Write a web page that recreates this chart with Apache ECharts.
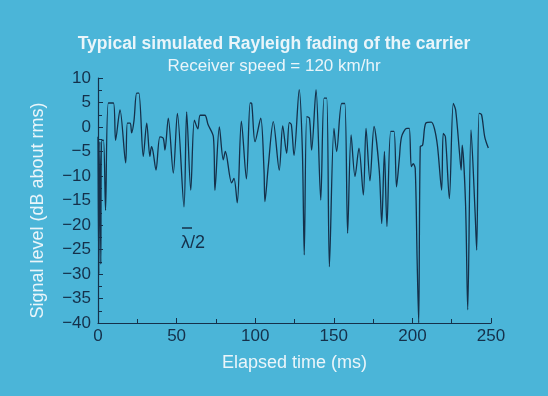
<!DOCTYPE html>
<html>
<head>
<meta charset="utf-8">
<script src="https://cdn.jsdelivr.net/npm/echarts@6/dist/echarts.min.js"></script>
<style>
html,body{margin:0;padding:0;background:#4bb5d8;}
#c{width:548px;height:396px;}
</style>
</head>
<body>
<div id="c"></div>
<script>
const titleText = 'Typical simulated Rayleigh fading of the carrier';
const subtitleText = 'Receiver speed = 120 km/hr';
const xName = 'Elapsed time (ms)';
const yName = 'Signal level (dB about rms)';
const xTicks = [0, 50, 100, 150, 200, 250];
const yTicks = [10, 5, 0, -5, -10, -15, -20, -25, -30, -35, -40];

const times = [0, 0.5, 1.2, 1.8, 2.3, 3.5, 4.8, 6.6, 9.8, 11.2, 14, 17.6, 18.7, 20.5, 21.4, 22.9, 24.6, 26,
  28.8, 31, 33, 34, 35, 36.9, 39.4, 41.5, 42.6, 44.7, 47.9, 50.5, 54.7, 56.4, 59, 61.3, 63.5, 65, 68, 70,
  73.4, 74.4, 77.2, 79.7, 81, 85, 86.5, 88.6, 91.2, 94.4, 96.8, 97.8, 99.9, 103.5, 105.6, 106.2, 108.3,
  111.5, 115.3, 117.5, 120, 121.7, 123, 124.7, 128, 130, 131.2, 132.8, 134.5, 135.9, 138.7, 141.7, 143.8,
  145.5, 147.2, 150.1, 151.8, 155, 157, 158.8, 161, 163.5, 166, 168.8, 170.5, 173, 175.6, 178.9, 180.5,
  182.2, 183.8, 186.2, 188.3, 189.9, 191.7, 193.1, 196.4, 198, 199.3, 200.5, 201.8, 203, 204, 205, 206.5,
  208.5, 212, 214, 216, 218.6, 219.6, 221, 223.5, 226, 227.5, 230, 231, 231.7, 233.8, 235.2, 237.3,
  239.9, 240.9, 242.4, 244, 246, 248.3];
const levels = [-2, -30, -3, -28, -2.7, -2.7, -17, 4.9, 4.9, -2.7, 3.5, -7.3, 0.8, 0.8, -1.2, 1.3, 6.9, 6.9,
  -6, 0.8, -6, -4, -5, -8.8, -2, -2.3, -4.7, 1.8, -9.4, 2.8, -16.3, 3.1, -12.9, 1.4, -0.4, 2.4, 2.4, 0.5,
  -2, -12.9, 0, -6.7, -5, -11.4, -10.5, -15.5, 1.2, -10.6, 4.9, 4.8, -3, 1.8, -8.8, -15.2, -8.1,
  1.1, -8.8, 0.2, -5.4, 0.9, 0.5, -5.8, 7.6, -4.7, -26.1, 2.1, 1.8, -4.7, 7.6, -14.9, 5.9,
  5.9, -28.5, -0.3, -5, 4.8, 4.8, -21.7, -1.6, -10.1, -4.3, -13.9, -0.3, -11, 0.1, -8.8, -19.7,
  -5, -20.3, -0.9, -0.9, -12.2, -6.4, -2, -0.3, -0.3, -8.1, -7.5, -8.5, -27, -40, -4, -3.7,
  0.8, 1, -0.3, -4, -12.9, -1.3, -2, -14.6, 4.8, 3.5, -5.4, -8.8, -3.7, -15.6, -37.3, -0.6,
  -17.6, -25.1, 2.8, 2.5, -2, -4.3];

const dark = '#15304a';
const light = '#eaf5fa';
const chart = echarts.init(document.getElementById('c'), null, {renderer: 'canvas'});
chart.setOption({
  backgroundColor: '#4bb5d8',
  animation: false,
  title: {
    text: titleText,
    subtext: subtitleText,
    left: 'center',
    top: 30,
    itemGap: 5,
    textStyle: {color: light, fontFamily: 'Liberation Sans', fontWeight: 'bold', fontSize: 17.5},
    subtextStyle: {color: light, fontFamily: 'Liberation Sans', fontSize: 17}
  },
  grid: {left: 98, right: 57, top: 78, bottom: 73, containLabel: false},
  xAxis: {
    type: 'value', min: xTicks[0], max: xTicks[xTicks.length - 1], interval: 50,
    name: xName, nameLocation: 'middle', nameGap: 31,
    nameTextStyle: {color: light, fontFamily: 'Liberation Sans', fontSize: 18},
    axisLine: {show: true, onZero: false, lineStyle: {color: dark, width: 1.2}},
    axisTick: {show: true, inside: true, length: 5, lineStyle: {color: dark}},
    minorTick: {show: true, splitNumber: 2, length: 4, lineStyle: {color: dark}},
    splitLine: {show: false},
    axisLabel: {color: dark, fontFamily: 'Liberation Sans', fontSize: 17, margin: 5}
  },
  yAxis: {
    type: 'value', min: yTicks[yTicks.length - 1], max: yTicks[0], interval: 5,
    name: yName, nameLocation: 'middle', nameGap: 51, nameRotate: 90,
    nameTextStyle: {color: light, fontFamily: 'Liberation Sans', fontSize: 18, padding: [0, 20, 0, 0]},
    axisLine: {show: true, onZero: false, lineStyle: {color: dark, width: 1.2}},
    axisTick: {show: true, inside: true, length: 5, lineStyle: {color: dark}},
    minorTick: {show: true, splitNumber: 2, length: 4, lineStyle: {color: dark}},
    splitLine: {show: false},
    axisLabel: {color: dark, fontFamily: 'Liberation Sans', fontSize: 17, margin: 7,
      formatter: v => String(v).replace('-', '\u2212')}
  },
  graphic: [
    {type: 'text', left: 181, top: 234, style: {text: '\u03bb/2', fill: dark, font: '18px "Liberation Sans"'}},
    {type: 'line', shape: {x1: 182, y1: 228, x2: 192, y2: 228}, style: {stroke: dark, lineWidth: 1.5}}
  ],
  series: [{
    type: 'line',
    data: times.map((t, i) => [t, levels[i]]),
    symbol: 'none',
    smooth: 0.3,
    lineStyle: {color: dark, width: 1.3},
    clip: true
  }]
});
</script>
</body>
</html>
